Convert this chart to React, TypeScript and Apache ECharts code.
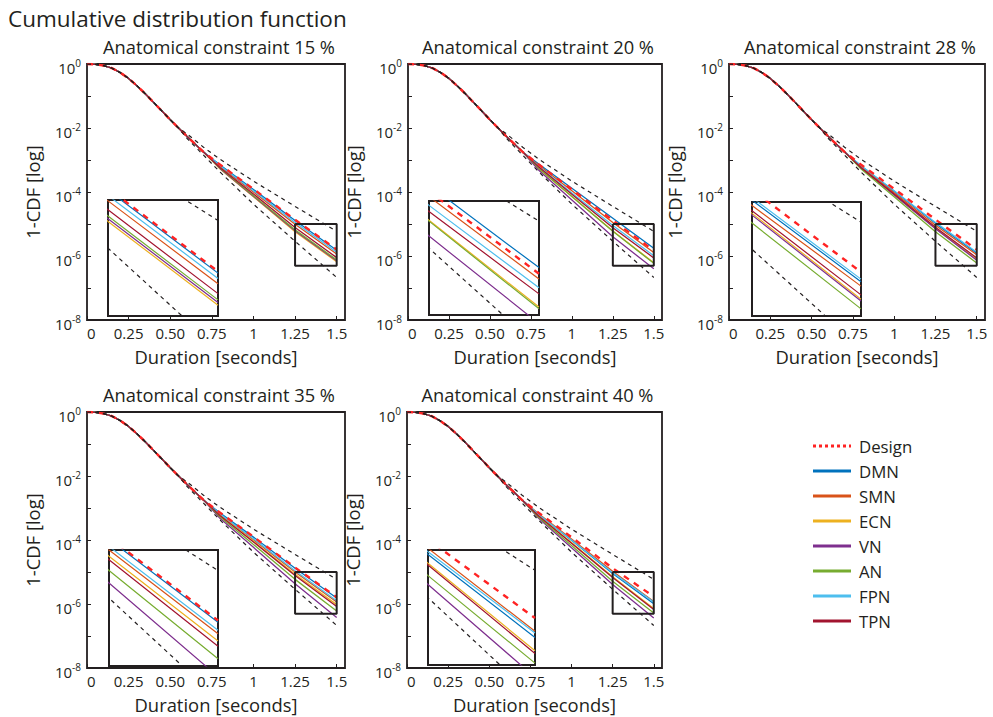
import React, { useEffect, useRef } from 'react';
import * as echarts from 'echarts';

// ---- series names and colours ----
const networks = ['DMN', 'SMN', 'ECN', 'VN', 'AN', 'FPN', 'TPN'];
const networkColors = ['#0072BD', '#D95319', '#EDB120', '#7E2F8E', '#77AC30', '#4DBEEE', '#A2142F'];
const designColor = '#FF2323';
const inkColor = '#231F20';
const legendLabels = ['Design', 'DMN', 'SMN', 'ECN', 'VN', 'AN', 'FPN', 'TPN'];

// ---- axes ----
const xTicks = [0, 0.25, 0.5, 0.75, 1, 1.25, 1.5];
const xTickLabels = ['0', '0.25', '0.50', '0.75', '1', '1.25', '1.5'];
const yLabelExponents = [0, -2, -4, -6, -8];
const zoomDuration = [1.25, 1.5];
const zoomProbability = [5e-7, 1e-5];

const constraints = [15, 20, 28, 35, 40];

// ---- early part of every curve, shared by all networks (log10 of 1-CDF) ----
const bodyDuration = [0, 0.05, 0.1, 0.15, 0.2, 0.25, 0.3, 0.35, 0.4, 0.45, 0.5, 0.55, 0.6, 0.7];
const bodyLog = [0, -0.01, -0.05, -0.13, -0.27, -0.45, -0.68, -0.93, -1.2, -1.47, -1.74, -2.0, -2.26, -2.75];

// ---- tails (log10 of 1-CDF) at these durations ----
const tailDuration = [0.8, 1.0, 1.25, 1.5];

const tail15: Record<string, number[]> = {
  Design: [-3.15, -3.91, -4.87, -5.8],
  DMN: [-3.16, -3.92, -4.89, -5.82],
  SMN: [-3.2, -4.0, -5.01, -5.94],
  ECN: [-3.28, -4.15, -5.24, -6.18],
  VN: [-3.27, -4.13, -5.21, -6.15],
  AN: [-3.26, -4.11, -5.18, -6.12],
  FPN: [-3.18, -3.96, -4.95, -5.88],
  TPN: [-3.24, -4.06, -5.11, -6.05],
};
const tail20: Record<string, number[]> = {
  Design: [-3.15, -3.92, -4.89, -5.83],
  DMN: [-3.13, -3.88, -4.82, -5.76],
  SMN: [-3.17, -3.96, -4.95, -5.89],
  ECN: [-3.27, -4.14, -5.22, -6.21],
  VN: [-3.33, -4.25, -5.4, -6.4],
  AN: [-3.27, -4.14, -5.23, -6.23],
  FPN: [-3.21, -4.03, -5.05, -5.99],
  TPN: [-3.23, -4.07, -5.12, -6.06],
};
const tail28: Record<string, number[]> = {
  Design: [-3.15, -3.9, -4.86, -5.8],
  DMN: [-3.19, -3.98, -4.98, -5.91],
  SMN: [-3.21, -4.02, -5.04, -5.96],
  ECN: [-3.25, -4.08, -5.13, -6.11],
  VN: [-3.25, -4.09, -5.15, -6.13],
  AN: [-3.28, -4.15, -5.24, -6.22],
  FPN: [-3.18, -3.96, -4.95, -5.88],
  TPN: [-3.24, -4.06, -5.1, -6.06],
};
const tail35: Record<string, number[]> = {
  Design: [-3.15, -3.9, -4.86, -5.79],
  DMN: [-3.16, -3.91, -4.88, -5.81],
  SMN: [-3.2, -3.99, -5.0, -5.94],
  ECN: [-3.22, -4.04, -5.07, -6.02],
  VN: [-3.33, -4.23, -5.37, -6.42],
  AN: [-3.28, -4.14, -5.23, -6.22],
  FPN: [-3.19, -3.96, -4.96, -5.9],
  TPN: [-3.24, -4.06, -5.11, -6.08],
};
const tail40: Record<string, number[]> = {
  Design: [-3.15, -3.91, -4.88, -5.77],
  DMN: [-3.21, -4.01, -5.05, -5.99],
  SMN: [-3.18, -3.97, -4.98, -5.92],
  ECN: [-3.24, -4.08, -5.15, -6.14],
  VN: [-3.32, -4.24, -5.39, -6.44],
  AN: [-3.29, -4.17, -5.29, -6.28],
  FPN: [-3.2, -4.0, -5.02, -5.94],
  TPN: [-3.25, -4.1, -5.17, -6.17],
};
const tails = [tail15, tail20, tail28, tail35, tail40];

// ---- dashed bounds (log10 of 1-CDF) ----
const boundDuration = [0.6, 0.7, 0.8, 1.0, 1.25, 1.5];
const upperBound = [-2.18, -2.6, -2.98, -3.66, -4.45, -5.23];
const lowerBound = [-2.32, -2.85, -3.38, -4.38, -5.54, -6.67];

// ---- layout ----
const FONT = '"Open Sans", "Noto Sans", sans-serif';
const panels = [
  { left: 87, top: 64, width: 258, height: 256, inset: { left: 108, top: 200, width: 110, height: 116 } },
  { left: 408, top: 64, width: 254, height: 256, inset: { left: 429, top: 201, width: 110, height: 114 } },
  { left: 729, top: 64, width: 256, height: 256, inset: { left: 752, top: 202, width: 109, height: 114 } },
  { left: 87, top: 412, width: 258, height: 256, inset: { left: 109, top: 550, width: 109, height: 116 } },
  { left: 407, top: 412, width: 255, height: 256, inset: { left: 428, top: 550, width: 107, height: 115 } },
];
const legendPos = { lineX1: 813, lineX2: 851, textX: 859, y0: 446, step: 25 };

function networkCurve(tail: number[]) {
  const pts: number[][] = bodyDuration.map((x, i) => [x, Math.pow(10, bodyLog[i])]);
  tailDuration.forEach((x, i) => pts.push([x, Math.pow(10, tail[i])]));
  return pts;
}

function boundCurve(bound: number[]) {
  const pts: number[][] = [];
  bodyDuration.forEach((x, i) => {
    if (x < boundDuration[0]) pts.push([x, Math.pow(10, bodyLog[i])]);
  });
  boundDuration.forEach((x, i) => pts.push([x, Math.pow(10, bound[i])]));
  return pts;
}

function xLabel(v: number) {
  const i = xTicks.findIndex((t) => Math.abs(t - v) < 1e-6);
  return i >= 0 ? xTickLabels[i] : '';
}

function yLabel(v: number) {
  const e = Math.round(Math.log10(v));
  return yLabelExponents.includes(e) ? `{b|10}{s|${e}}` : '';
}

function buildOption() {
  const grid: any[] = [];
  const xAxis: any[] = [];
  const yAxis: any[] = [];
  const series: any[] = [];
  const graphic: any[] = [];

  graphic.push({
    type: 'text',
    x: 8,
    y: 18,
    style: { text: 'Cumulative distribution function', font: `22.5px ${FONT}`, fill: inkColor, textAlign: 'left', textVerticalAlign: 'middle' },
  });

  panels.forEach((p, k) => {
    const tail = tails[k];
    grid.push({ left: p.left, top: p.top, width: p.width, height: p.height, show: true, borderColor: inkColor, borderWidth: 1.8, backgroundColor: '#fff' });
    grid.push({ left: p.inset.left, top: p.inset.top, width: p.inset.width, height: p.inset.height, show: true, borderColor: inkColor, borderWidth: 2, backgroundColor: '#fff', z: 3 });

    graphic.push({
      type: 'text',
      x: p.left + p.width / 2 + 3,
      y: p.top - 18,
      style: { text: `Anatomical constraint ${constraints[k]} %`, font: `18.3px ${FONT}`, fill: inkColor, textAlign: 'center', textVerticalAlign: 'middle' },
    });

    const mainG = 2 * k;
    const insetG = 2 * k + 1;
    const ax = 3 * k;

    xAxis.push({
      type: 'value', gridIndex: mainG, min: 0, max: 1.55, interval: 0.25,
      name: 'Duration [seconds]', nameLocation: 'middle', nameGap: 27,
      nameTextStyle: { fontFamily: FONT, fontSize: 18.4, color: inkColor },
      axisLine: { show: false },
      axisTick: { show: true, inside: true, length: 4, lineStyle: { color: inkColor } },
      splitLine: { show: false },
      axisLabel: { fontFamily: FONT, fontSize: 15, color: inkColor, margin: 5, alignMinLabel: 'left', showMaxLabel: false, formatter: xLabel },
    });
    xAxis.push({
      type: 'value', gridIndex: insetG, min: zoomDuration[0], max: zoomDuration[1], interval: 0.05,
      axisLine: { show: false }, axisLabel: { show: false }, splitLine: { show: false },
      axisTick: { show: true, inside: true, length: 3, lineStyle: { color: '#777' } },
    });
    xAxis.push({
      type: 'value', gridIndex: insetG, position: 'top', min: zoomDuration[0], max: zoomDuration[1], interval: 0.05,
      axisLine: { show: false }, axisLabel: { show: false }, splitLine: { show: false },
      axisTick: { show: true, inside: true, length: 3, lineStyle: { color: '#777' } },
    });

    yAxis.push({
      type: 'log', logBase: 10, gridIndex: mainG, min: 1e-8, max: 1,
      name: '1-CDF [log]', nameLocation: 'middle', nameGap: 46, nameRotate: 90,
      nameTextStyle: { fontFamily: FONT, fontSize: 18.4, color: inkColor },
      axisLine: { show: false },
      axisTick: { show: true, inside: true, length: 4, lineStyle: { color: inkColor } },
      splitLine: { show: false },
      axisLabel: {
        margin: 6, padding: [8, 0, 0, 0], formatter: yLabel,
        rich: {
          b: { fontFamily: FONT, fontSize: 15, color: inkColor, lineHeight: 20 },
          s: { fontFamily: FONT, fontSize: 10, color: inkColor, lineHeight: 10, verticalAlign: 'top' },
        },
      },
    });
    yAxis.push({
      type: 'log', logBase: 10, gridIndex: insetG, min: zoomProbability[0], max: zoomProbability[1],
      axisLine: { show: false }, axisLabel: { show: false }, splitLine: { show: false },
      axisTick: { show: true, inside: true, length: 3, lineStyle: { color: '#777' } },
    });
    yAxis.push({
      type: 'log', logBase: 10, gridIndex: insetG, position: 'right', min: zoomProbability[0], max: zoomProbability[1],
      axisLine: { show: false }, axisLabel: { show: false }, splitLine: { show: false },
      axisTick: { show: true, inside: true, length: 3, lineStyle: { color: '#777' } },
    });

    const targets = [
      { xAxisIndex: ax, yAxisIndex: ax, z: 2 },
      { xAxisIndex: ax + 1, yAxisIndex: ax + 1, z: 4 },
    ];
    targets.forEach((t, j) => {
      networks.forEach((n, i) => {
        series.push({
          type: 'line', name: n, xAxisIndex: t.xAxisIndex, yAxisIndex: t.yAxisIndex, z: t.z,
          data: networkCurve(tail[n]), showSymbol: false, clip: true, silent: true,
          lineStyle: { color: networkColors[i], width: j === 0 ? 1.3 : 1.2 },
        });
      });
      series.push({
        type: 'line', name: 'Design', xAxisIndex: t.xAxisIndex, yAxisIndex: t.yAxisIndex, z: t.z + 0.5,
        data: networkCurve(tail.Design), showSymbol: false, clip: true, silent: true,
        lineStyle: { color: designColor, width: 2.4, type: [6, 6] },
      });
      [upperBound, lowerBound].forEach((b) => {
        series.push({
          type: 'line', name: 'bound', xAxisIndex: t.xAxisIndex, yAxisIndex: t.yAxisIndex, z: t.z + 0.6,
          data: boundCurve(b), showSymbol: false, clip: true, silent: true,
          lineStyle: { color: inkColor, width: 1.2, type: [4, 4] },
        });
      });
    });

    // frame of the magnified region
    series.push({
      type: 'line', name: 'zoom', xAxisIndex: ax, yAxisIndex: ax, z: 6,
      data: [
        [zoomDuration[0], zoomProbability[1]],
        [zoomDuration[1], zoomProbability[1]],
        [zoomDuration[1], zoomProbability[0]],
        [zoomDuration[0], zoomProbability[0]],
        [zoomDuration[0], zoomProbability[1]],
      ],
      showSymbol: false, clip: false, silent: true,
      lineStyle: { color: inkColor, width: 2 },
    });
  });

  // legend
  legendLabels.forEach((label, i) => {
    const y = legendPos.y0 + i * legendPos.step;
    const isDesign = i === 0;
    graphic.push({
      type: 'line',
      shape: { x1: legendPos.lineX1, y1: y, x2: legendPos.lineX2, y2: y },
      style: {
        stroke: isDesign ? designColor : networkColors[i - 1],
        lineWidth: 3,
        lineDash: isDesign ? [3, 3] : null,
      },
    });
    graphic.push({
      type: 'text',
      x: legendPos.textX,
      y,
      style: { text: label, font: `16.8px ${FONT}`, fill: inkColor, textAlign: 'left', textVerticalAlign: 'middle' },
    });
  });

  return { animation: false, backgroundColor: '#fff', grid, xAxis, yAxis, series, graphic };
}

export default function App() {
  const ref = useRef<HTMLDivElement>(null);
  useEffect(() => {
    if (!ref.current) return;
    const chart = echarts.init(ref.current, null, { renderer: 'svg' });
    chart.setOption(buildOption());
    return () => chart.dispose();
  }, []);
  return (
    <div
      ref={ref}
      style={{ position: 'fixed', left: 0, top: 0, width: 993, height: 717, background: '#fff' }}
    />
  );
}
